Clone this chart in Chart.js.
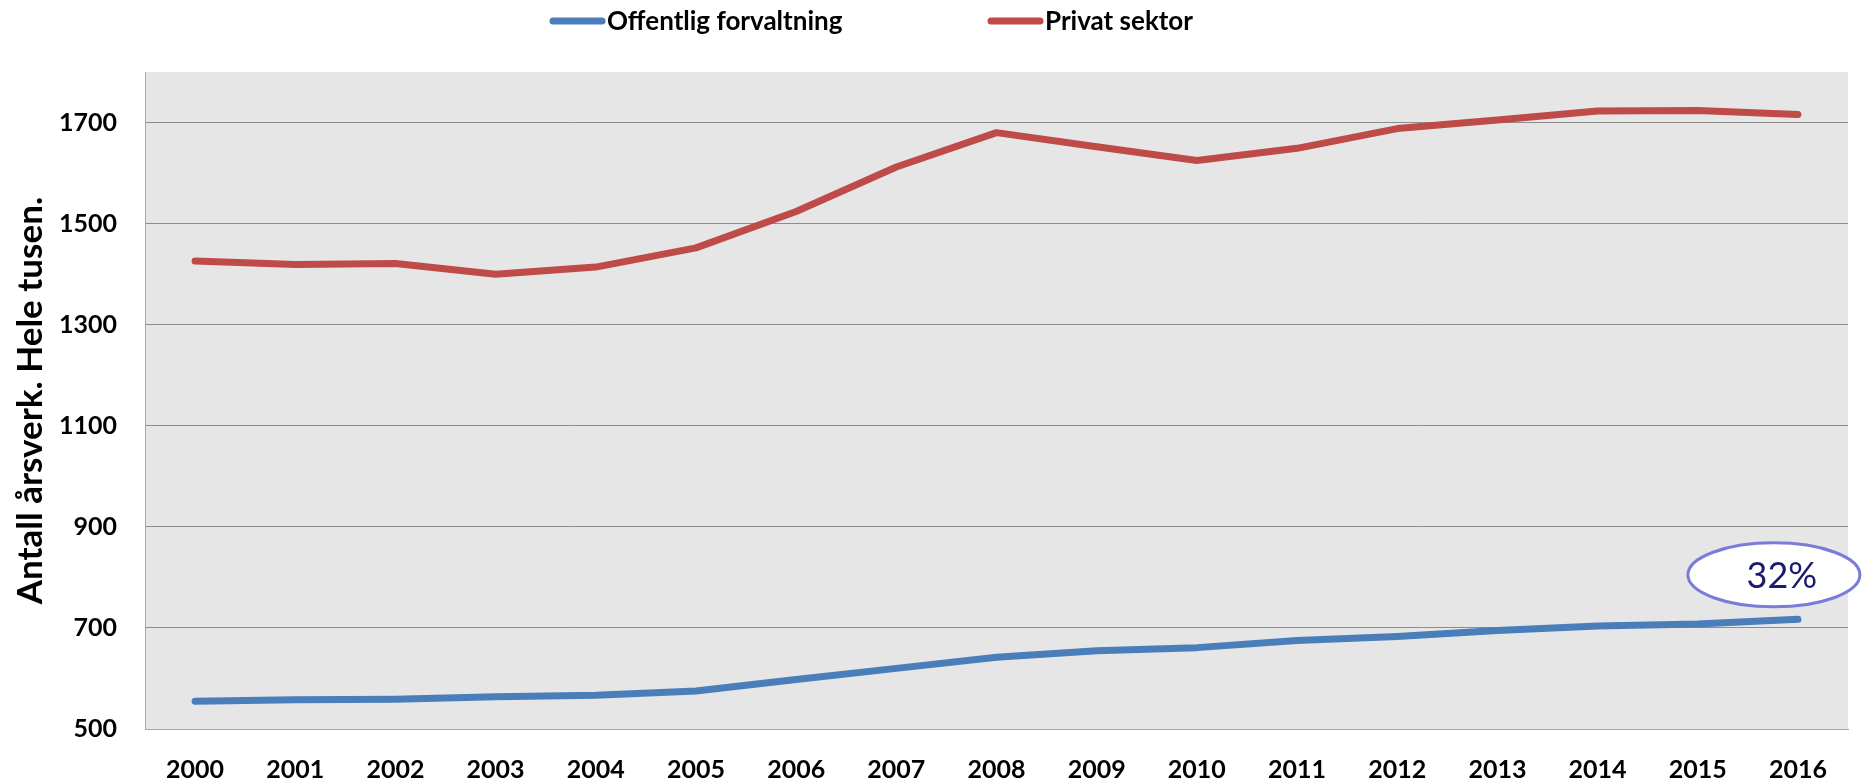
<!DOCTYPE html>
<html>
<head>
<meta charset="utf-8">
<script src="https://cdn.jsdelivr.net/npm/chart.js@4/dist/chart.umd.min.js"></script>
<style>
    html, body { margin: 0; padding: 0; background: #fff; }
    #wrap { width: 1868px; height: 779px; position: relative; }
</style>
</head>
<body>
<div id="wrap"><canvas id="chart"></canvas></div>
<script>
// Årsverk etter sektor, hele tusen
const years = ['2000', '2001', '2002', '2003', '2004', '2005', '2006', '2007', '2008',
    '2009', '2010', '2011', '2012', '2013', '2014', '2015', '2016'];
const offentlig = [555, 558, 559, 564, 567, 575, 598, 620, 642, 655, 661, 675, 683, 695, 704, 708, 717];
const privat = [1426, 1419, 1421, 1400, 1414, 1452, 1524, 1612, 1680, 1652, 1625, 1649, 1688, 1705, 1723, 1724, 1716];
const yTicks = [500, 700, 900, 1100, 1300, 1500, 1700];
const yTitle = 'Antall årsverk. Hele tusen.';
const calloutText = '32%';
const calloutValue = 805;

const FONT = "Lato, 'Open Sans', sans-serif";
const legendStart = [550, 988];

const plotBackground = {
    id: 'plotBackground',
    beforeDraw(chart) {
        const { ctx, chartArea: a } = chart;
        ctx.save();
        ctx.fillStyle = '#e6e6e6';
        ctx.fillRect(a.left, a.top, a.right - a.left, a.bottom - a.top);
        ctx.restore();
    },
};

// legend with the line swatch right against the text, like the original
const lineLegend = {
    id: 'lineLegend',
    afterDraw(chart) {
        const { ctx } = chart;
        ctx.save();
        ctx.font = `bold 26px ${FONT}`;
        ctx.textBaseline = 'middle';
        chart.data.datasets.forEach((ds, i) => {
            const x = legendStart[i], y = 21;
            ctx.strokeStyle = ds.borderColor;
            ctx.lineWidth = 7;
            ctx.lineCap = 'round';
            ctx.beginPath();
            ctx.moveTo(x + 3, y);
            ctx.lineTo(x + 52, y);
            ctx.stroke();
            ctx.fillStyle = '#000';
            ctx.fillText(ds.label, x + 57, y + 1);
        });
        ctx.restore();
    },
};

const callout = {
    id: 'callout',
    afterDatasetsDraw(chart) {
        const { ctx, scales } = chart;
        const cx = scales.x.getPixelForValue(years.length - 1) - 24;
        const cy = scales.y.getPixelForValue(calloutValue);
        ctx.save();
        ctx.beginPath();
        ctx.ellipse(cx, cy, 86, 32, 0, 0, Math.PI * 2);
        ctx.fillStyle = '#fff';
        ctx.fill();
        ctx.lineWidth = 3;
        ctx.strokeStyle = '#7b7bdc';
        ctx.stroke();
        ctx.fillStyle = '#1b1b6b';
        ctx.font = `36px ${FONT}`;
        ctx.textAlign = 'center';
        ctx.textBaseline = 'middle';
        ctx.fillText(calloutText, cx + 8, cy + 2);
        ctx.restore();
    },
};

function lineSet(label, data, color) {
    return {
        label, data,
        borderColor: color,
        backgroundColor: color,
        borderWidth: 7,
        borderCapStyle: 'round',
        borderJoinStyle: 'round',
        pointRadius: 0,
        tension: 0,
    };
}

new Chart(document.getElementById('chart'), {
    type: 'line',
    data: {
        labels: years,
        datasets: [
            lineSet('Offentlig forvaltning', offentlig, '#4a7ebb'),
            lineSet('Privat sektor', privat, '#be4b48'),
        ],
    },
    options: {
        responsive: true, maintainAspectRatio: false,
        animation: false,
        layout: { padding: { top: 72, right: 20, bottom: 0, left: 0 } },
        plugins: { legend: { display: false }, tooltip: { enabled: false } },
        scales: {
            x: {
                offset: true,
                grid: { display: false },
                border: { color: '#a6a6a6', width: 1 },
                ticks: { color: '#000', padding: 18, maxRotation: 0, font: { family: FONT, size: 25, weight: 'bold' } },
                afterFit(scale) { scale.height = 50; },
            },
            y: {
                min: 500, max: 1800,
                grid: { color: '#8c8c8c', lineWidth: 1, drawTicks: false },
                border: { color: '#a6a6a6', width: 1 },
                ticks: {
                    stepSize: 200,
                    includeBounds: false,
                    color: '#000', padding: 28,
                    font: { family: FONT, size: 25, weight: 'bold' },
                    callback: v => String(v),
                },
                afterBuildTicks(scale) { scale.ticks = yTicks.map(v => ({ value: v })); },
                title: {
                    display: true, text: yTitle, color: '#000',
                    font: { family: FONT, size: 35, weight: 'bold' },
                    padding: { top: 10, bottom: 0 },
                },
                afterFit(scale) { scale.width = 145; },
            },
        },
    },
    plugins: [plotBackground, callout, lineLegend],
});
</script>
</body>
</html>
